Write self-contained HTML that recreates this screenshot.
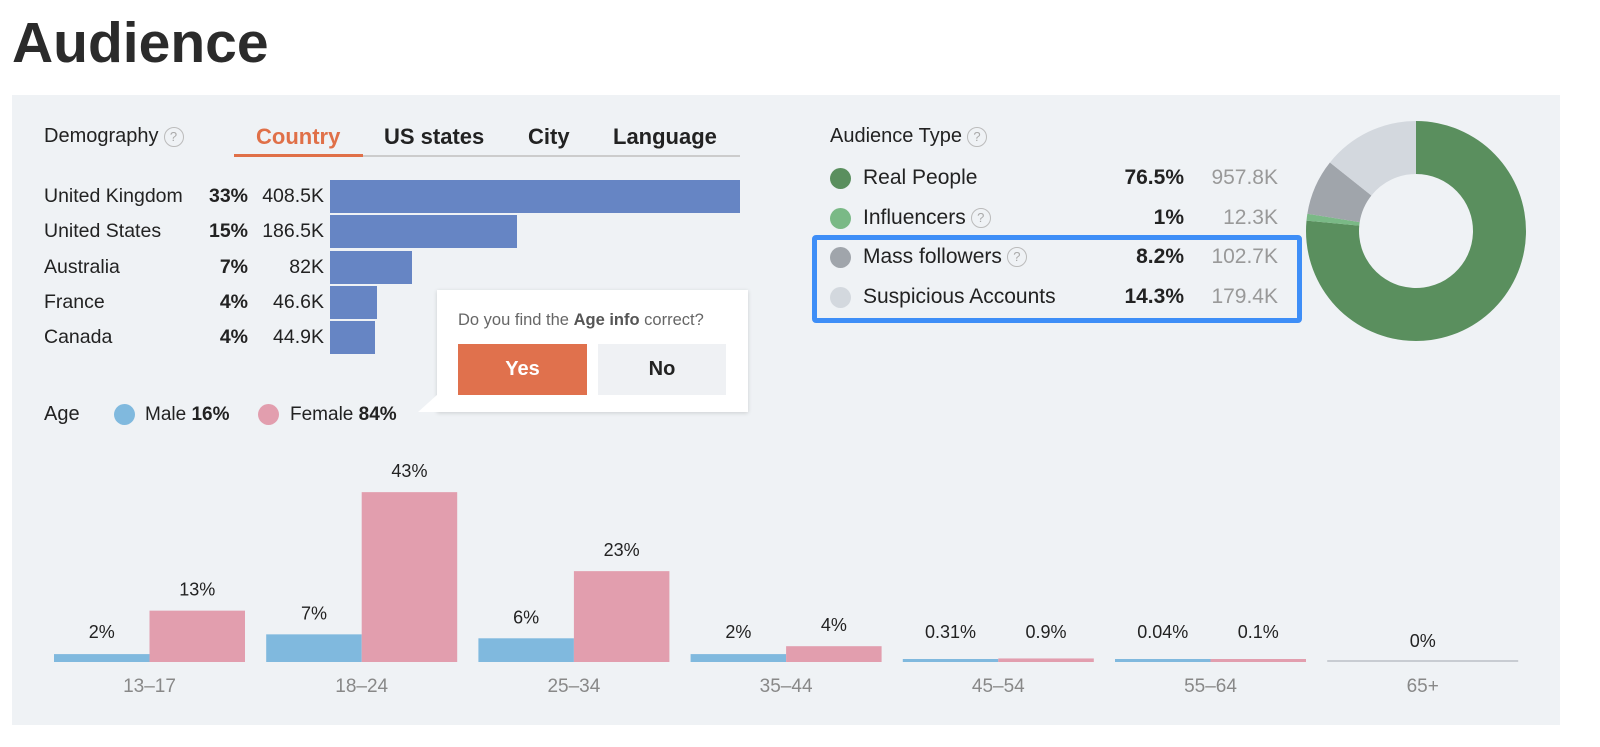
<!DOCTYPE html>
<html><head><meta charset="utf-8"><style>
body{margin:0;width:1600px;height:747px;background:#fff;font-family:"Liberation Sans",sans-serif;color:#222;position:relative;overflow:hidden}
.a{position:absolute;white-space:nowrap}
.q{display:inline-block;width:18px;height:18px;border:1.5px solid #bbb;border-radius:50%;color:#aaa;font-size:13px;text-align:center;line-height:18px;vertical-align:middle;margin-left:5px;box-sizing:content-box}
.dot{position:absolute;width:21px;height:21px;border-radius:50%}
</style></head><body>
<div class="a" style="left:12px;top:10px;font-size:57px;font-weight:bold;color:#2b2b2b">Audience</div>
<div class="a" style="left:12px;top:95px;width:1548px;height:630px;background:#eff2f5"></div>

<div class="a" style="left:44px;top:125px;font-size:20px">Demography<span class="q">?</span></div>
<div class="a" style="left:256px;top:124px;font-size:22px;font-weight:bold;color:#e07048">Country</div>
<div class="a" style="left:384px;top:124px;font-size:22px;font-weight:bold">US states</div>
<div class="a" style="left:528px;top:124px;font-size:22px;font-weight:bold">City</div>
<div class="a" style="left:613px;top:124px;font-size:22px;font-weight:bold">Language</div>
<div class="a" style="left:234px;top:155px;width:506px;height:2px;background:#ccc"></div>
<div class="a" style="left:234px;top:154px;width:129px;height:3px;background:#e07048"></div>

<div id="countries"></div>

<div class="a" style="left:44px;top:403px;font-size:20px">Age</div>
<div class="dot" style="left:114px;top:404px;background:#80b9de"></div>
<div class="a" style="left:145px;top:404px;font-size:19px">Male <b>16%</b></div>
<div class="dot" style="left:258px;top:404px;background:#e29eae"></div>
<div class="a" style="left:290px;top:404px;font-size:19px">Female <b>84%</b></div>

<div class="a" style="left:437px;top:290px;width:311px;height:122px;background:#fff;box-shadow:0 1px 4px rgba(0,0,0,.15)"></div>
<div class="a" style="left:418px;top:394px;width:0;height:0;border-top:18px solid transparent;border-right:20px solid #fff"></div>
<div class="a" style="left:458px;top:311px;font-size:16.5px;color:#666">Do you find the <b style="color:#555">Age info</b> correct?</div>
<div class="a" style="left:458px;top:344px;width:129px;height:51px;background:#e0714d;color:#fff;font-weight:bold;font-size:20px;text-align:center;line-height:51px">Yes</div>
<div class="a" style="left:598px;top:344px;width:128px;height:51px;background:#eff1f4;color:#222;font-weight:bold;font-size:20px;text-align:center;line-height:51px">No</div>

<div class="a" style="left:830px;top:125px;font-size:20px">Audience Type<span class="q">?</span></div>
<div class="a" style="left:812px;top:235px;width:480px;height:78px;border:5px solid #3e8ef7;border-radius:4px"></div>
<div id="types"></div>
<svg class="a" id="donut" style="left:1300px;top:115px" width="232" height="232"></svg>

<svg class="a" id="age" style="left:0;top:440px" width="1600" height="270"></svg>

<script>
const countries=["United Kingdom","United States","Australia","France","Canada"];
const countryPct=["33%","15%","7%","4%","4%"];
const countryVal=[408.5,186.5,82,46.6,44.9];
const cBox=document.getElementById('countries');
countries.forEach((c,i)=>{
  const y=180+i*35.3;
  let d=document.createElement('div');d.className='a';d.style.cssText=`left:44px;top:${y+5}px;font-size:19.5px`;d.textContent=c;
  
  cBox.appendChild(d);
  d=document.createElement('div');d.className='a';d.style.cssText=`left:180px;width:68px;text-align:right;top:${y+5}px;font-size:19.5px;font-weight:bold`;d.textContent=countryPct[i];
  
  cBox.appendChild(d);
  d=document.createElement('div');d.className='a';d.style.cssText=`left:250px;width:74px;text-align:right;top:${y+5}px;font-size:19.5px`;d.textContent=countryVal[i]+'K';
  
  cBox.appendChild(d);
  d=document.createElement('div');d.className='a';d.style.cssText=`left:330px;top:${y}px;height:33px;width:${countryVal[i]/408.5*410}px;background:#6685c4`;
  
  cBox.appendChild(d);
});

const types=["Real People","Influencers","Mass followers","Suspicious Accounts"];
const typePct=[76.5,1,8.2,14.3];
const typeCount=["957.8K","12.3K","102.7K","179.4K"];
const typeColors=["#5a8f5e","#7ab986","#a0a5ab","#d3d8de"];
const tBox=document.getElementById('types');
types.forEach((t,i)=>{
  const y=166+i*39.5;
  let d=document.createElement('div');d.className='dot';d.style.cssText=`left:830px;top:${y+2}px;background:${typeColors[i]}`;
  
  tBox.appendChild(d);
  d=document.createElement('div');d.className='a';d.style.cssText=`left:863px;top:${y}px;font-size:21px`;d.innerHTML=t+((i==1||i==2)?'<span class="q">?</span>':'');
  
  tBox.appendChild(d);
  d=document.createElement('div');d.className='a';d.style.cssText=`left:1080px;width:104px;text-align:right;top:${y}px;font-size:21px;font-weight:bold`;d.textContent=typePct[i]+'%';
  
  tBox.appendChild(d);
  d=document.createElement('div');d.className='a';d.style.cssText=`left:1180px;width:98px;text-align:right;top:${y}px;font-size:21px;color:#999`;d.textContent=typeCount[i];
  
  tBox.appendChild(d);
});
const ns='http://www.w3.org/2000/svg';
const don=document.getElementById('donut');
const cx=116,cy=116,R=110,r=57;let acc=0;const tot=typePct.reduce((a,b)=>a+b,0);
typePct.forEach((p,i)=>{
  const a0=acc/tot*2*Math.PI;acc+=p;const a1=acc/tot*2*Math.PI;
  const pt=(rad,a)=>[cx+rad*Math.sin(a),cy-rad*Math.cos(a)];
  const L=(a1-a0)>Math.PI?1:0;
  const [x0,y0]=pt(R,a0),[x1,y1]=pt(R,a1),[x2,y2]=pt(r,a1),[x3,y3]=pt(r,a0);
  const e=document.createElementNS(ns,'path');
  e.setAttribute('d',`M${x0} ${y0}A${R} ${R} 0 ${L} 1 ${x1} ${y1}L${x2} ${y2}A${r} ${r} 0 ${L} 0 ${x3} ${y3}Z`);
  e.setAttribute('fill',typeColors[i]);
  
  
  don.appendChild(e);
});

const ageGroups=["13–17","18–24","25–34","35–44","45–54","55–64","65+"];
const maleVals=[2,7,6,2,0.31,0.04,0];
const femaleVals=[13,43,23,4,0.9,0.1,0];
const maleLabels=["2%","7%","6%","2%","0.31%","0.04%",""];
const femaleLabels=["13%","43%","23%","4%","0.9%","0.1%",""];
const svg=document.getElementById('age');
const base=222,k=3.95,bw=95.5;
const yH=v=>Math.max(v*k,3);
function add(tag,attrs,txt,name){const e=document.createElementNS(ns,tag);for(const a in attrs)e.setAttribute(a,attrs[a]);if(txt!==undefined)e.textContent=txt;


svg.appendChild(e);return e;}
ageGroups.forEach((g,i)=>{
  const x0=54+i*212.2;
  if(maleVals[i]===0&&femaleVals[i]===0){
    add('rect',{x:x0,y:base-2,width:bw*2,height:2,fill:'#c8ccd2'},undefined,'age-bar-empty');
    add('text',{x:x0+bw,y:base-15,'text-anchor':'middle','font-size':18,fill:'#222','font-family':'Liberation Sans'},'0%','age-value-label');
  } else {
    const hm=yH(maleVals[i]),hf=yH(femaleVals[i]);
    add('rect',{x:x0,y:base-hm,width:bw,height:hm,fill:'#80b9de'},undefined,'male-bar');
    add('rect',{x:x0+bw,y:base-hf,width:bw,height:hf,fill:'#e29eae'},undefined,'female-bar');
    add('text',{x:x0+bw/2,y:base-Math.max(hm,9)-15,'text-anchor':'middle','font-size':18,fill:'#222','font-family':'Liberation Sans'},maleLabels[i],'male-value-label');
    add('text',{x:x0+bw*1.5,y:base-Math.max(hf,9)-15,'text-anchor':'middle','font-size':18,fill:'#222','font-family':'Liberation Sans'},femaleLabels[i],'female-value-label');
  }
  add('text',{x:x0+bw,y:base+30,'text-anchor':'middle','font-size':19,fill:'#888','font-family':'Liberation Sans'},g,'age-group-label');
});
</script>
</body></html>
